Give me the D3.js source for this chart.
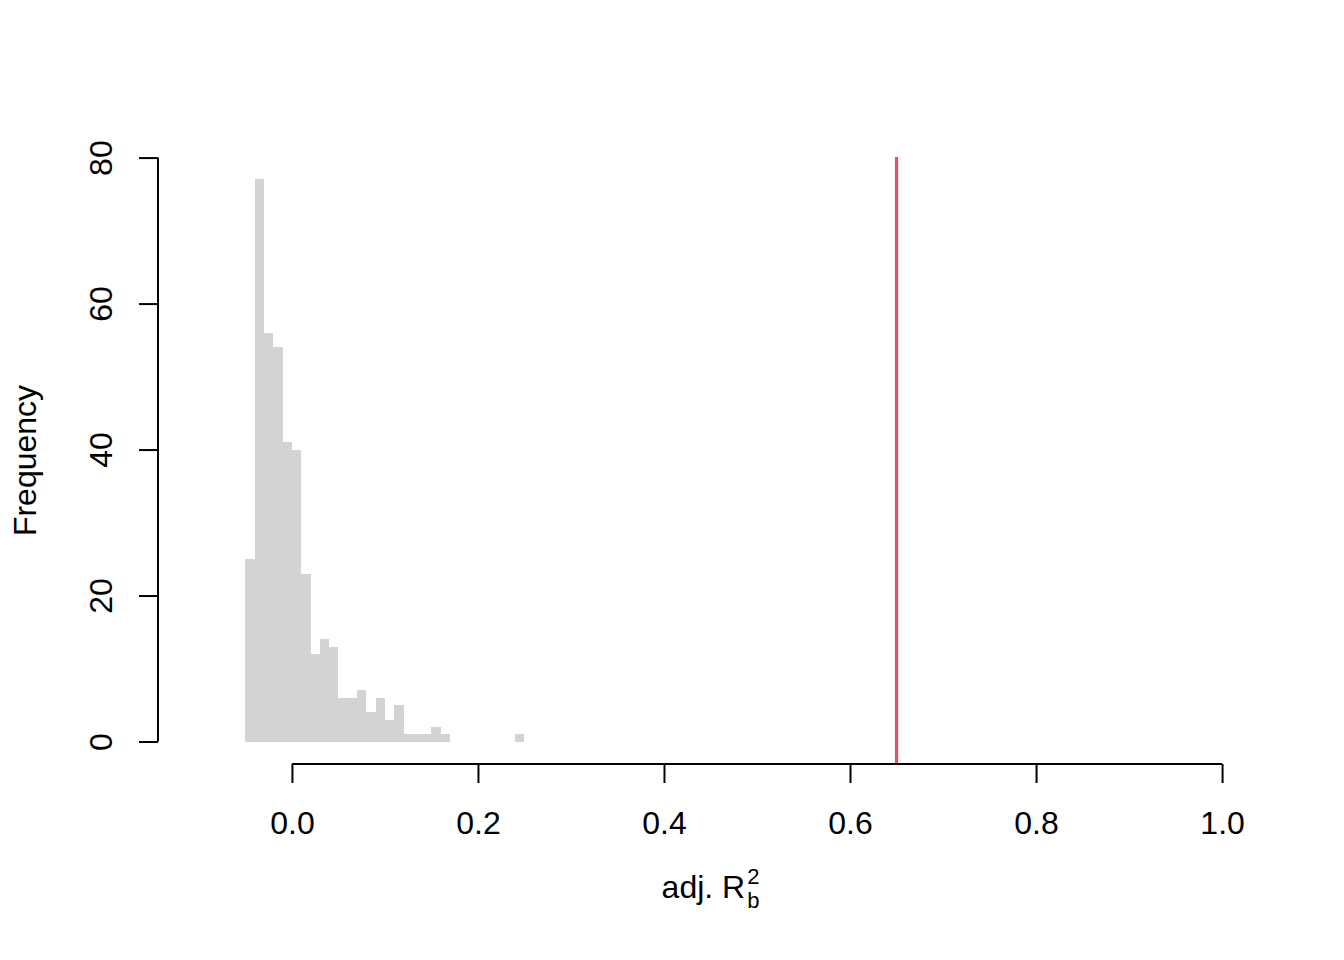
<!DOCTYPE html>
<html>
<head>
<meta charset="utf-8">
<script src="https://cdn.jsdelivr.net/npm/d3@7"></script>
<style>
  html, body { margin: 0; padding: 0; background: #ffffff; }
  svg { display: block; }
  text { font-family: "Liberation Sans", Arial, Helvetica, sans-serif; fill: #000; }
</style>
</head>
<body>
<svg id="chart" width="1344" height="960"></svg>
<script>
// ---- data ----
const binStarts = [-0.05, -0.04, -0.03, -0.02, -0.01, 0.00, 0.01, 0.02, 0.03, 0.04,
                   0.05, 0.06, 0.07, 0.08, 0.09, 0.10, 0.11, 0.12, 0.13, 0.14,
                   0.15, 0.16, 0.17, 0.18, 0.19, 0.20, 0.21, 0.22, 0.23, 0.24];
const counts    = [25, 77, 56, 54, 41, 40, 23, 12, 14, 13,
                   6, 6, 7, 4, 6, 3, 5, 1, 1, 1,
                   2, 1, 0, 0, 0, 0, 0, 0, 0, 1];
const binWidth = 0.01;
const observedValue = 0.65;
const xTicks = [0.0, 0.2, 0.4, 0.6, 0.8, 1.0];
const yTicks = [0, 20, 40, 60, 80];
const xLabelMain = "adj. R";
const xLabelSup = "2";
const xLabelSub = "b";
const yLabel = "Frequency";

// ---- layout ----
const svg = d3.select("#chart");
const plot = { left: 158, right: 1263, top: 157, bottom: 764 };
const fontSize = 32;
const font = '"Liberation Sans", Arial, sans-serif';

const x = d3.scaleLinear().domain([-0.1 - 0.044, 1.0 + 0.044]).range([plot.left, plot.right]);
const y = d3.scaleLinear().domain([-3.08, 80.08]).range([plot.bottom, plot.top]);

// bars
svg.append("g").selectAll("rect")
  .data(binStarts.map((s, i) => ({ s, c: counts[i] })).filter(d => d.c > 0))
  .join("rect")
  .attr("x", d => x(d.s))
  .attr("width", d => x(d.s + binWidth) - x(d.s))
  .attr("y", d => y(d.c))
  .attr("height", d => y(0) - y(d.c))
  .attr("fill", "#D3D3D3")
  .attr("shape-rendering", "crispEdges");

// observed line
svg.append("line")
  .attr("x1", x(observedValue)).attr("x2", x(observedValue))
  .attr("y1", plot.top).attr("y2", plot.bottom)
  .attr("stroke", "#DF536B").attr("stroke-width", 3.2);

// x axis
const xAxis = d3.axisBottom(x).tickValues(xTicks).tickFormat(d3.format(".1f")).tickSize(19).tickSizeOuter(0);
const gx = svg.append("g").attr("transform", `translate(0,${plot.bottom})`).call(xAxis);
gx.select(".domain").attr("stroke", "#000").attr("stroke-width", 2)
  .attr("d", `M${x(xTicks[0])},0H${x(xTicks[xTicks.length - 1])}`);
gx.selectAll(".tick line").attr("stroke", "#000").attr("stroke-width", 2);
gx.selectAll(".tick text")
  .attr("y", 70).attr("dy", null)
  .style("font-size", fontSize + "px")
  .style("font-family", font);

// y axis
const yAxis = d3.axisLeft(y).tickValues(yTicks).tickSize(19).tickSizeOuter(0);
const gy = svg.append("g").attr("transform", `translate(${plot.left},0)`).call(yAxis);
gy.select(".domain").attr("stroke", "#000").attr("stroke-width", 2)
  .attr("d", `M0,${y(yTicks[0])}V${y(yTicks[yTicks.length - 1])}`);
gy.selectAll(".tick line").attr("stroke", "#000").attr("stroke-width", 2);
gy.selectAll(".tick text")
  .attr("x", null).attr("dy", null)
  .attr("text-anchor", "middle")
  .attr("transform", "translate(-46,0) rotate(-90)")
  .style("font-size", fontSize + "px")
  .style("font-family", font);

// y label
svg.append("text")
  .attr("transform", `translate(36,${(plot.top + plot.bottom) / 2}) rotate(-90)`)
  .attr("text-anchor", "middle")
  .style("font-size", fontSize + "px")
  .text(yLabel);

// x label with sub/superscript
const cx = (plot.left + plot.right) / 2;
const xl = svg.append("g");
const main = xl.append("text").attr("x", 0).attr("y", 898).style("font-size", fontSize + "px").text(xLabelMain);
const mw = main.node().getComputedTextLength();
const smallSize = 22;
const sup = xl.append("text").attr("x", mw + 2).attr("y", 884).style("font-size", smallSize + "px").text(xLabelSup);
const sub = xl.append("text").attr("x", mw + 2).attr("y", 908).style("font-size", smallSize + "px").text(xLabelSub);
const total = mw + 2 + Math.max(sup.node().getComputedTextLength(), sub.node().getComputedTextLength());
xl.attr("transform", `translate(${cx - total / 2},0)`);
</script>
</body>
</html>
